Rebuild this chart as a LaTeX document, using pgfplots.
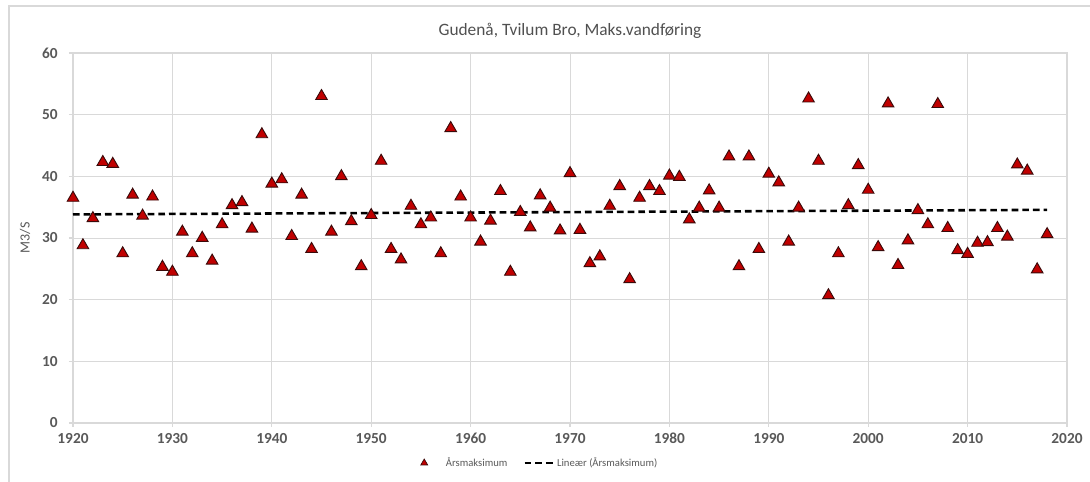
\documentclass[border=0pt]{standalone}
\usepackage{pgfplots}
\usepackage{pgfplotstable}
\pgfplotsset{compat=1.18}
\usepackage{fontspec}
\setmainfont{Carlito}
\definecolor{txt}{HTML}{595959}
\definecolor{grd}{HTML}{D9D9D9}
\definecolor{mk}{HTML}{C00000}
\definecolor{mkedge}{HTML}{3A0A0A}

\pgfplotstableread{
year y
1920 36.5
1921 28.8
1922 33.2
1923 42.3
1924 42.0
1925 27.5
1926 37.0
1927 33.6
1928 36.7
1929 25.3
1930 24.5
1931 31.0
1932 27.5
1933 30.0
1934 26.3
1935 32.2
1936 35.3
1937 35.8
1938 31.5
1939 46.8
1940 38.8
1941 39.5
1942 30.3
1943 37.0
1944 28.2
1945 53.0
1946 31.0
1947 40.0
1948 32.7
1949 25.4
1950 33.7
1951 42.5
1952 28.2
1953 26.5
1954 35.2
1955 32.2
1956 33.3
1957 27.5
1958 47.8
1959 36.7
1960 33.3
1961 29.4
1962 32.8
1963 37.6
1964 24.5
1965 34.2
1966 31.7
1967 36.9
1968 34.9
1969 31.2
1970 40.5
1971 31.3
1972 25.9
1973 27.0
1974 35.2
1975 38.4
1976 23.3
1977 36.5
1978 38.4
1979 37.6
1980 40.1
1981 39.9
1982 33.0
1983 34.9
1984 37.7
1985 34.9
1986 43.2
1987 25.4
1988 43.2
1989 28.2
1990 40.4
1991 39.0
1992 29.4
1993 34.9
1994 52.6
1995 42.5
1996 20.7
1997 27.5
1998 35.3
1999 41.8
2000 37.8
2001 28.5
2002 51.8
2003 25.6
2004 29.6
2005 34.5
2006 32.2
2007 51.7
2008 31.6
2009 28.0
2010 27.4
2011 29.2
2012 29.3
2013 31.6
2014 30.2
2015 41.9
2016 40.9
2017 24.9
2018 30.6
}\maks

\begin{document}
\begin{tikzpicture}
% chart area: 1090x482 px at 0.75pt/px
\path[use as bounding box] (-54.75pt,-44.25pt) rectangle (762.75pt,317.25pt);
\draw[grd, line width=0.8pt] (-48pt,-44.25pt) -- (-48pt,312.75pt) -- (762.75pt,312.75pt);
\begin{axis}[
  at={(0,0)}, anchor=south west,
  scale only axis,
  width=745.5pt, height=277.5pt,
  xmin=1920, xmax=2020, ymin=0, ymax=60,
  xtick distance=10, ytick distance=10,
  grid=major,
  grid style={grd, line width=0.6pt},
  axis line style={grd, line width=0.8pt},
  major tick length=3pt,
  tick align=outside,
  tick style={grd, line width=0.8pt},
  xtick pos=bottom, ytick pos=left,
  /pgf/number format/1000 sep={},
  /pgf/number format/assume math mode=true,
  tick label style={font=\fontsize{11.5}{13}\selectfont\bfseries, text=txt},
  xticklabel style={yshift=-1pt},
  yticklabel style={xshift=-5pt},
  ylabel={M3/S},
  ylabel style={font=\fontsize{10.5}{12}\selectfont, text=txt, yshift=2pt},
  title={Gudenå, Tvilum Bro, Maks.vandføring},
  title style={font=\fontsize{13}{15}\selectfont, text=txt!90!black, yshift=1pt},
  legend style={at={(0.47,-0.078)}, anchor=north, draw=none, fill=none,
    legend columns=2, font=\fontsize{8}{10}\selectfont, text=txt,
    /tikz/every even column/.append style={column sep=10pt}},
  legend cell align=left,
]
\addplot[only marks, mark=triangle*, mark size=5pt,
  mark options={fill=mk, draw=mkedge, line width=0.7pt},
  legend image code/.code={\path[draw=none, fill=none] (0cm,0cm) -- (0.6cm,0cm);
    \draw[mark=triangle*, mark size=3pt, mark options={fill=mk, draw=mkedge, line width=0.5pt}] plot coordinates {(0.1cm,0cm)};}]
  table[x=year, y=y] {\maks};
\addlegendentry{Årsmaksimum}
\addplot[black, line width=1.9pt, dash pattern=on 5pt off 3pt, mark=none,
  legend image code/.code={\draw[black, line width=1.9pt, dash pattern=on 5pt off 3pt] (0cm,0cm) -- (0.75cm,0cm);}]
  table[x=year, y={create col/linear regression={y=y}}] {\maks};
\addlegendentry{Lineær (Årsmaksimum)}
\end{axis}
\end{tikzpicture}
\end{document}
